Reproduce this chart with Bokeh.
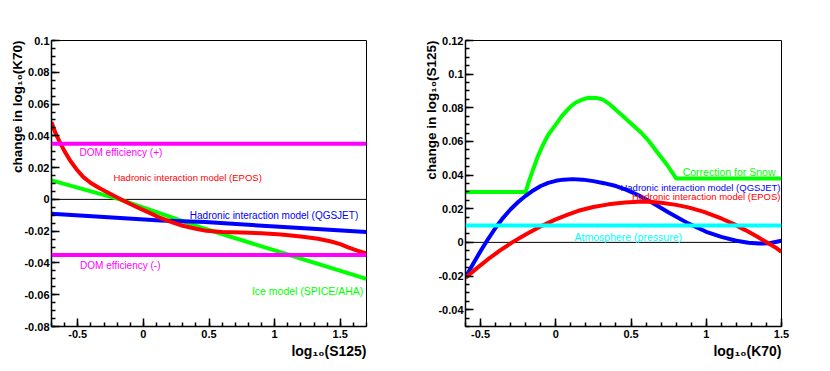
import numpy as np
from bokeh.plotting import figure
from bokeh.layouts import row
from bokeh.models import FixedTicker, CustomJSTickFormatter, Label, Span, Title
from bokeh.embed import file_html
from bokeh.resources import INLINE

# ---------------- data: left panel (x = log10(S125)) ----------------
left_xrange = (-0.7, 1.7)
left_yrange = (-0.08, 0.1)
left_xticks = [-0.5, 0.0, 0.5, 1.0, 1.5]
left_xlabels = ["-0.5", "0", "0.5", "1", "1.5"]
left_yticks = [-0.08, -0.06, -0.04, -0.02, 0.0, 0.02, 0.04, 0.06, 0.08, 0.1]
left_ylabels = ["-0.08", "-0.06", "-0.04", "-0.02", "0", "0.02", "0.04", "0.06", "0.08", "0.1"]

epos_l_x = [-0.70, -0.67, -0.634, -0.60, -0.558, -0.51, -0.457, -0.40, -0.33, -0.25, -0.177, -0.10,
            -0.02, 0.06, 0.13, 0.22, 0.30, 0.40, 0.48, 0.60, 0.75, 0.90, 1.05, 1.20, 1.33, 1.43,
            1.50, 1.56, 1.63, 1.70]
epos_l_y = [0.0486, 0.0418, 0.0356, 0.0302, 0.0245, 0.0190, 0.0140, 0.0103, 0.0068, 0.0034, 0.0003,
            -0.0029, -0.0060, -0.0090, -0.0117, -0.0145, -0.0166, -0.0185, -0.0198, -0.0205,
            -0.0209, -0.0213, -0.0221, -0.0233, -0.0248, -0.0265, -0.0282, -0.0302, -0.0322, -0.0340]
ice_l_x = [-0.70, -0.18, 0.47, 1.10, 1.70]
ice_l_y = [0.0120, 0.0, -0.0185, -0.0347, -0.0500]
qgs_l_x = [-0.70, -0.33, 0.13, 0.47, 1.10, 1.70]
qgs_l_y = [-0.0091, -0.0110, -0.0133, -0.0143, -0.0176, -0.0206]
dom_levels = [0.035, -0.035]

# ---------------- data: right panel (x = log10(K70)) ----------------
right_xrange = (-0.6, 1.5)
right_yrange = (-0.05, 0.12)
right_xticks = [-0.5, 0.0, 0.5, 1.0, 1.5]
right_xlabels = ["-0.5", "0", "0.5", "1", "1.5"]
right_yticks = [-0.04, -0.02, 0.0, 0.02, 0.04, 0.06, 0.08, 0.1, 0.12]
right_ylabels = ["-0.04", "-0.02", "0", "0.02", "0.04", "0.06", "0.08", "0.1", "0.12"]

snow_x = [-0.60, -0.20, -0.18, -0.16, -0.14, -0.12, -0.09, -0.05, 0.00, 0.04, 0.09, 0.13, 0.18,
          0.22, 0.27, 0.31, 0.36, 0.41, 0.46, 0.52, 0.57, 0.62, 0.68, 0.74, 0.80, 1.50]
snow_y = [0.030, 0.030, 0.036, 0.041, 0.046, 0.051, 0.057, 0.064, 0.070, 0.075, 0.080, 0.083, 0.085,
          0.086, 0.0858, 0.085, 0.082, 0.078, 0.074, 0.069, 0.065, 0.060, 0.053, 0.046, 0.038, 0.038]
qgs_r_x = [-0.60, -0.55, -0.50, -0.45, -0.40, -0.35, -0.30, -0.25, -0.20, -0.15, -0.10, -0.05, 0.00,
           0.05, 0.11, 0.18, 0.25, 0.32, 0.40, 0.47, 0.55, 0.65, 0.75, 0.88, 1.00, 1.10, 1.20, 1.28,
           1.35, 1.42, 1.50]
qgs_r_y = [-0.0208, -0.0128, -0.0052, 0.0020, 0.0087, 0.0146, 0.0197, 0.0240, 0.0277, 0.0309, 0.0335,
           0.0354, 0.0366, 0.0373, 0.0376, 0.0373, 0.0364, 0.0352, 0.0335, 0.0312, 0.0280, 0.0231,
           0.0178, 0.0113, 0.0063, 0.0033, 0.0010, -0.0002, -0.0007, -0.0005, 0.0010]
epos_r_x = [-0.60, -0.52, -0.45, -0.37, -0.29, -0.20, -0.09, 0.00, 0.08, 0.15, 0.25, 0.35, 0.46, 0.55,
            0.62, 0.70, 0.80, 0.88, 0.98, 1.10, 1.18, 1.26, 1.34, 1.41, 1.46, 1.50]
epos_r_y = [-0.0210, -0.0150, -0.0100, -0.0048, 0.0000, 0.0047, 0.0100, 0.0137, 0.0165, 0.0188, 0.0210,
            0.0226, 0.0237, 0.0241, 0.0241, 0.0236, 0.0223, 0.0208, 0.0183, 0.0142, 0.0110, 0.0073,
            0.0033, -0.0004, -0.0030, -0.0056]
atm_level = 0.01

RED, GREEN, BLUE, MAGENTA, CYAN = "#ff0000", "#00ff00", "#0000ff", "#ff00ff", "#00ffff"
FONT = "Liberation Sans"


def tick_fmt(ticks, labels):
    return CustomJSTickFormatter(args=dict(t=ticks, l=labels), code="""
        let best = 0, d = Infinity;
        for (let i = 0; i < t.length; i++) {
            const e = Math.abs(t[i] - tick);
            if (e < d) { d = e; best = i; }
        }
        return l[best];
    """)


def make_panel(width, height, bl, br, bt, bb, xr, yr, xt, xl, yt, yl, ytitle, xtitle):
    p = figure(width=width, height=height, x_range=xr, y_range=yr,
               output_backend="svg", toolbar_location=None,
               min_border_left=bl, min_border_right=br,
               min_border_top=bt, min_border_bottom=bb)
    p.grid.visible = False
    p.outline_line_color = "black"
    p.outline_line_width = 1
    xminor = list(np.round(np.arange(xr[0], xr[1] + 1e-9, 0.1), 4))
    yminor = list(np.round(np.arange(yr[0], yr[1] + 1e-9, 0.005), 4))
    p.xaxis.ticker = FixedTicker(ticks=xt, minor_ticks=xminor)
    p.yaxis.ticker = FixedTicker(ticks=yt, minor_ticks=yminor)
    p.xaxis.formatter = tick_fmt(xt, xl)
    p.yaxis.formatter = tick_fmt(yt, yl)
    for ax in (p.xaxis[0], p.yaxis[0]):
        ax.major_tick_in = 8
        ax.major_tick_out = 0
        ax.minor_tick_in = 4
        ax.minor_tick_out = 0
        ax.axis_line_color = "black"
        ax.axis_line_width = 1.5
        ax.major_tick_line_color = "black"
        ax.minor_tick_line_color = "black"
        ax.major_tick_line_width = 1.5
        ax.minor_tick_line_width = 1.5
        ax.major_label_text_font = FONT
        ax.major_label_text_font_style = "bold"
        ax.major_label_text_font_size = "11px"
        ax.major_label_text_color = "black"
    p.xaxis.major_label_standoff = 3
    p.yaxis.major_label_standoff = 2
    p.add_layout(Span(location=0, dimension="width", line_color="black",
                      line_width=1, level="underlay"))
    p.add_layout(Title(text=ytitle, align="right", text_font=FONT, text_font_style="bold",
                       text_font_size="13.5px", text_color="black", standoff=-7, offset=0), "left")
    p.add_layout(Title(text=xtitle, align="right", text_font=FONT, text_font_style="bold",
                       text_font_size="14px", text_color="black", standoff=0, offset=0), "below")
    return p


def note(p, x, y, text, color, align="left", size="10px"):
    p.add_layout(Label(x=x, y=y, text=text, text_color=color, text_font=FONT,
                       text_font_size=size, text_align=align, text_baseline="middle"))


# ---------------- left panel ----------------
p1 = make_panel(421, 368, 51, 55, 40, 42, left_xrange, left_yrange,
                left_xticks, left_xlabels, left_yticks, left_ylabels,
                "change in log\u2081\u2080(K70)", "log\u2081\u2080(S125)")
p1.line(ice_l_x, ice_l_y, line_color=GREEN, line_width=4, line_join="round")
p1.line(qgs_l_x, qgs_l_y, line_color=BLUE, line_width=4, line_join="round")
p1.line(epos_l_x, epos_l_y, line_color=RED, line_width=4, line_join="round")
for lvl in dom_levels:
    p1.add_layout(Span(location=lvl, dimension="width", line_color=MAGENTA, line_width=4))
note(p1, -0.487, 0.0295, "DOM efficiency (+)", MAGENTA)
note(p1, -0.228, 0.0136, "Hadronic interaction model (EPOS)", RED, size="9.5px")
note(p1, 1.637, -0.0101, "Hadronic interaction model (QGSJET)", BLUE, align="right")
note(p1, -0.482, -0.0416, "DOM efficiency (-)", MAGENTA)
note(p1, 1.676, -0.0578, "Ice model (SPICE/AHA)", GREEN, align="right", size="10.5px")

# ---------------- right panel ----------------
p2 = make_panel(400, 368, 44, 40, 40, 41, right_xrange, right_yrange,
                right_xticks, right_xlabels, right_yticks, right_ylabels,
                "change in log\u2081\u2080(S125)", "log\u2081\u2080(K70)")
p2.line(snow_x, snow_y, line_color=GREEN, line_width=4, line_join="round")
p2.line(qgs_r_x, qgs_r_y, line_color=BLUE, line_width=4, line_join="round")
p2.line(epos_r_x, epos_r_y, line_color=RED, line_width=4, line_join="round")
p2.add_layout(Span(location=atm_level, dimension="width", line_color=CYAN, line_width=4))
note(p2, 1.460, 0.0419, "Correction for Snow", GREEN, align="right", size="10.5px")
note(p2, 1.493, 0.0326, "Hadronic interaction model (QGSJET)", BLUE, align="right", size="9.5px")
note(p2, 1.493, 0.0275, "Hadronic interaction model (EPOS)", RED, align="right", size="9.5px")
note(p2, 0.125, 0.0033, "Atmosphere (pressure)", CYAN, size="10.5px")

layout = row(p1, p2)
open("out.html", "w").write(file_html(layout, INLINE))
